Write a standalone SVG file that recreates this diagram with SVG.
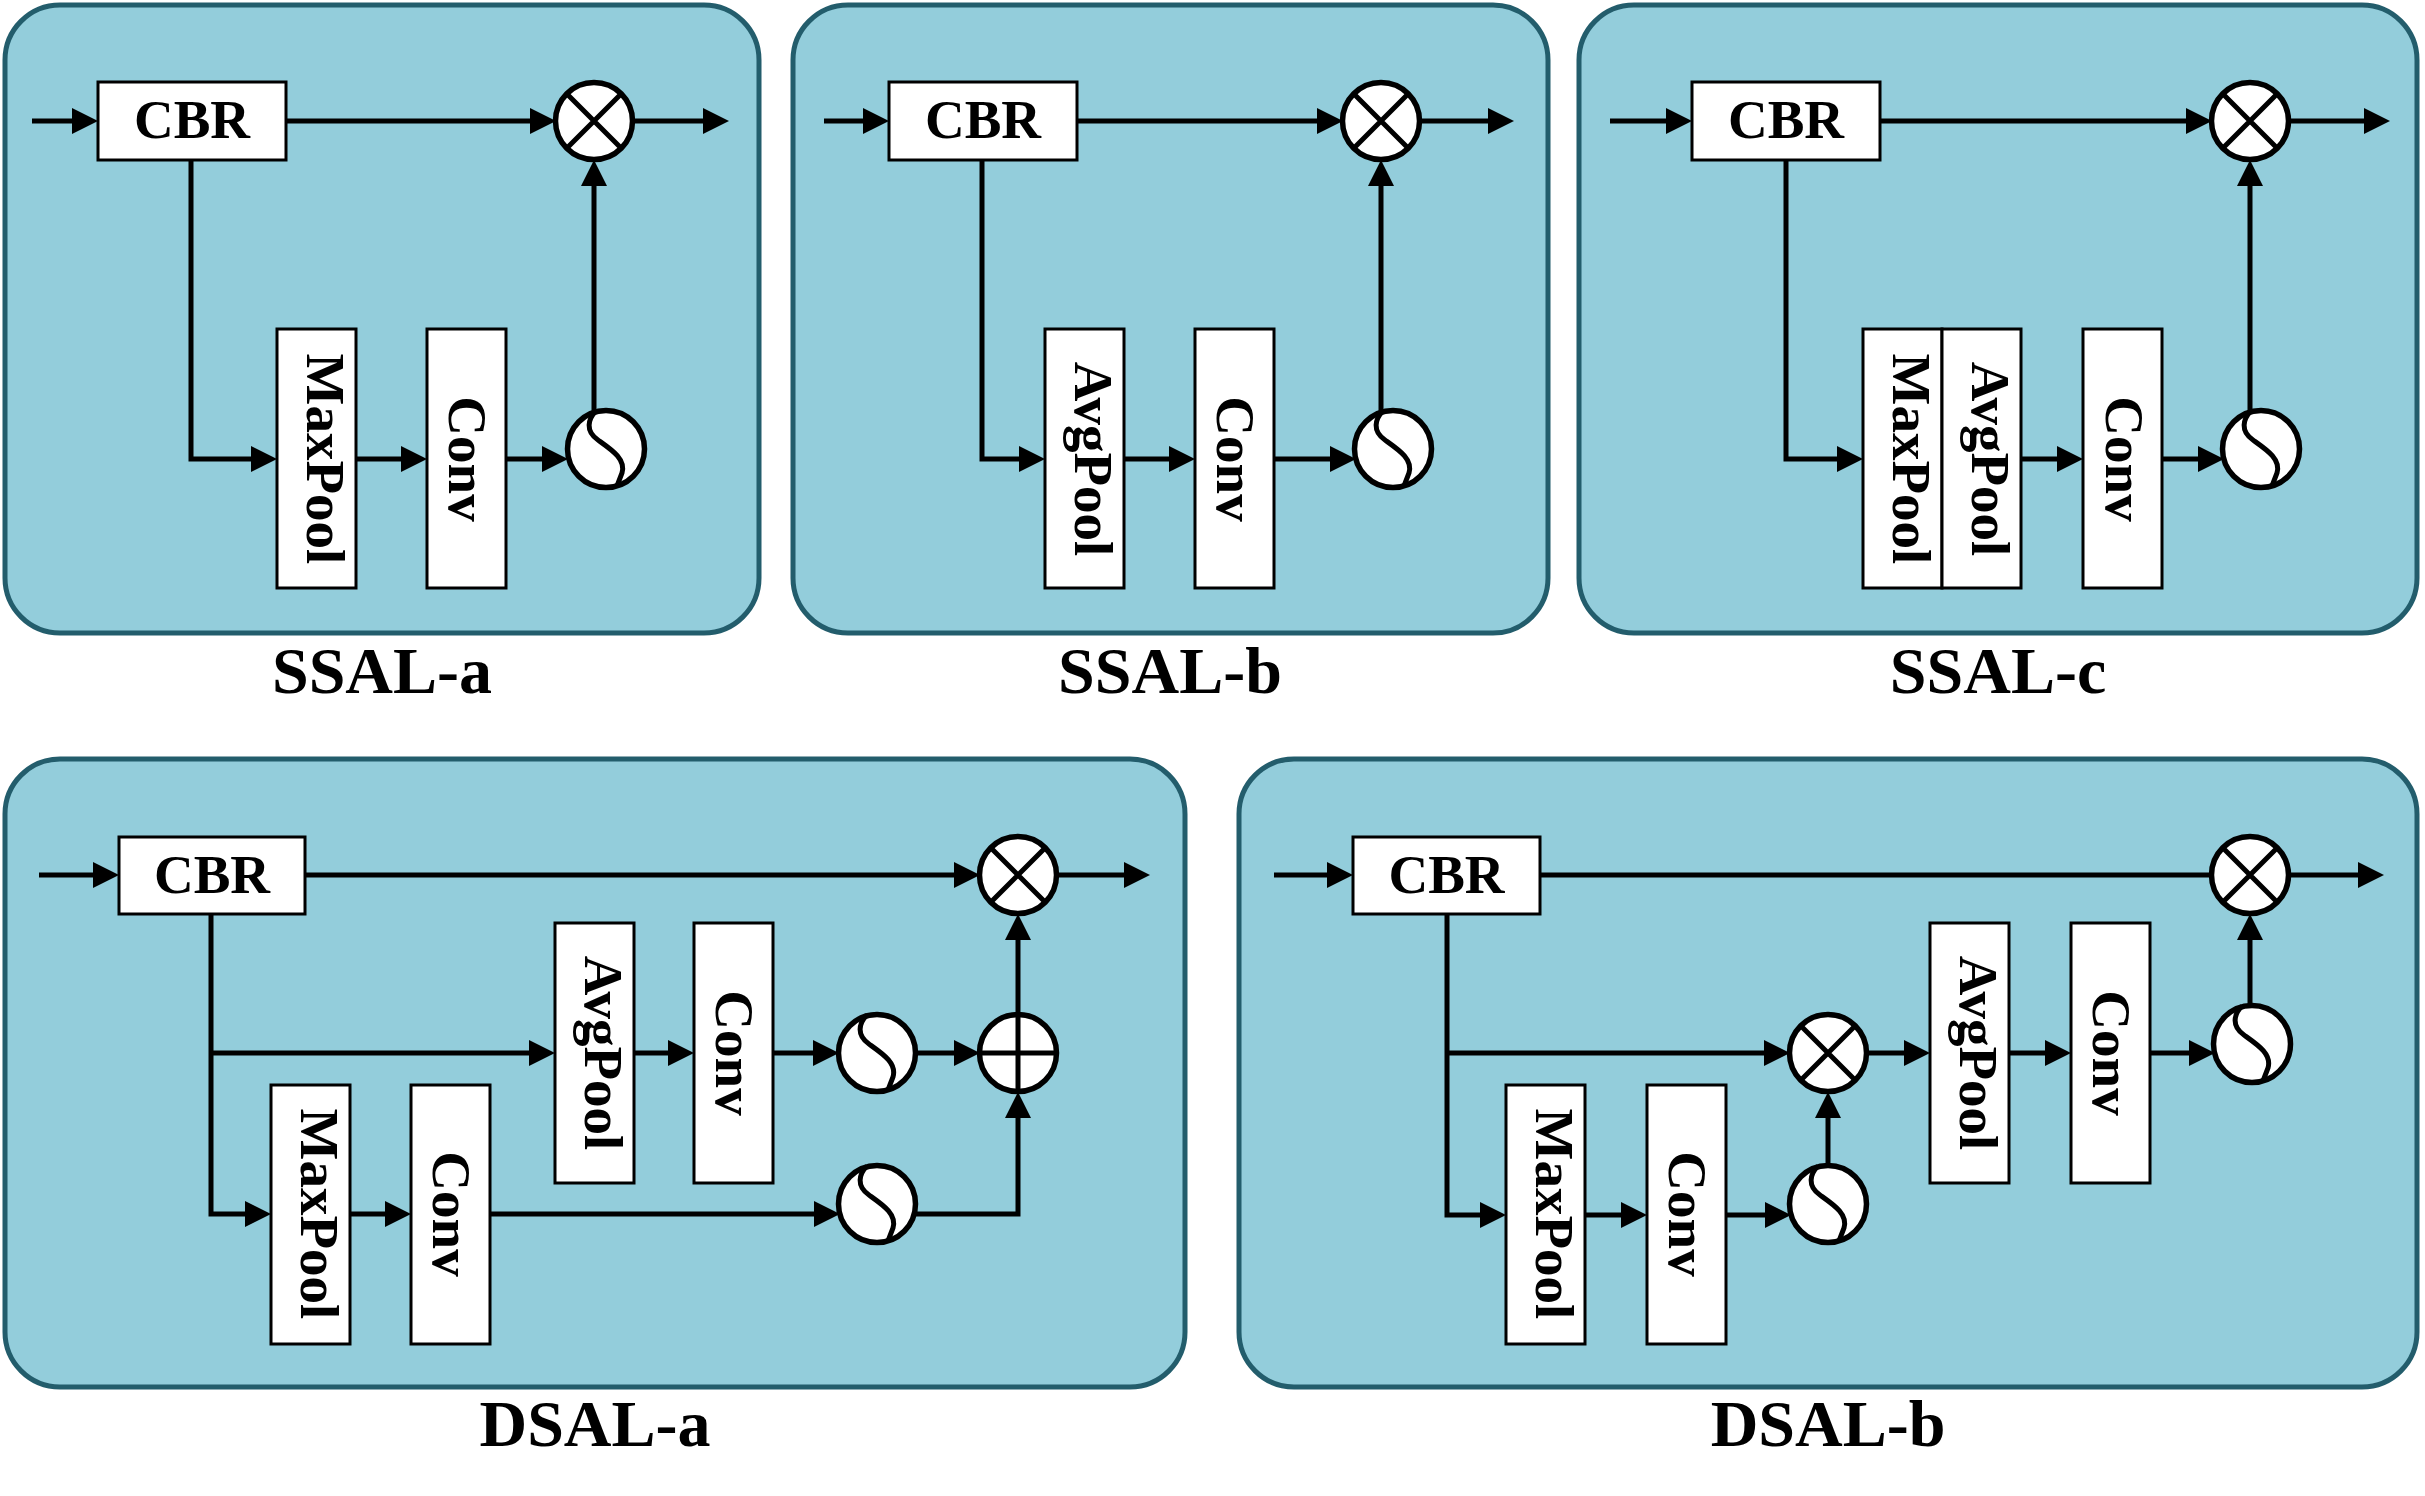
<svg xmlns="http://www.w3.org/2000/svg" xmlns:xlink="http://www.w3.org/1999/xlink" width="2425" height="1496" viewBox="0 0 2425 1496">
<style>
.panel{fill:#93CDDB;stroke:#235D6C;stroke-width:5}
.box{fill:#fff;stroke:#000;stroke-width:3}
.t{font-family:"Liberation Serif","Times New Roman",serif;font-weight:bold;font-size:55px;text-anchor:middle;fill:#000}
.lbl{font-family:"Liberation Serif","Times New Roman",serif;font-weight:bold;font-size:66px;text-anchor:middle;fill:#000}
.c{fill:none;stroke:#000;stroke-width:5}
.a{marker-end:url(#ah)}
</style>
<defs>
<marker id="ah" markerWidth="26" markerHeight="26" refX="20" refY="13" orient="auto" markerUnits="userSpaceOnUse"><path d="M0,0 L26,13 L0,26 z" fill="#000"/></marker>
<g id="sig"><circle r="38.5" fill="#fff" stroke="#000" stroke-width="5.5"/><path d="M-10,-38 C-18,-30 -21,-18 -8,-9 C6,1 20,10 16,24 L11,37" fill="none" stroke="#000" stroke-width="5"/></g>
<g id="mul"><circle r="38.5" fill="#fff" stroke="#000" stroke-width="5.5"/><path d="M-27,-27 L27,27 M27,-27 L-27,27" stroke="#000" stroke-width="5"/></g>
<g id="add"><circle r="38.5" fill="#fff" stroke="#000" stroke-width="5.5"/><path d="M-38,0 H38 M0,-38 V38" stroke="#000" stroke-width="5"/></g>
</defs>

<!-- Panels -->
<g id="panel-ssal-a"><rect class="panel" x="5" y="5" width="754" height="628" rx="55"/></g>
<g id="panel-ssal-b"><rect class="panel" x="793" y="5" width="755" height="628" rx="55"/></g>
<g id="panel-ssal-c"><rect class="panel" x="1579" y="5" width="838" height="628" rx="55"/></g>
<g id="panel-dsal-a"><rect class="panel" x="5" y="759" width="1180" height="628" rx="55"/></g>
<g id="panel-dsal-b"><rect class="panel" x="1239" y="759" width="1178" height="628" rx="55"/></g>

<!-- Connectors -->
<g id="connectors">
<!-- SSAL-a -->
<path class="c a" d="M32,121 H92"/>
<path class="c a" d="M286,121 H550"/>
<path class="c a" d="M634,121 H723"/>
<path class="c a" d="M191,160 V459 H271"/>
<path class="c a" d="M356,459 H421"/>
<path class="c a" d="M506,459 H562"/>
<path class="c a" d="M594,412 V166"/>
<!-- SSAL-b -->
<path class="c a" d="M824,121 H883"/>
<path class="c a" d="M1077,121 H1337"/>
<path class="c a" d="M1420,121 H1508"/>
<path class="c a" d="M982,160 V459 H1039"/>
<path class="c a" d="M1124,459 H1189"/>
<path class="c a" d="M1274,459 H1350"/>
<path class="c a" d="M1381,412 V166"/>
<!-- SSAL-c -->
<path class="c a" d="M1610,121 H1686"/>
<path class="c a" d="M1880,121 H2206"/>
<path class="c a" d="M2289,121 H2384"/>
<path class="c a" d="M1786,160 V459 H1857"/>
<path class="c a" d="M2021,459 H2077"/>
<path class="c a" d="M2162,459 H2218"/>
<path class="c a" d="M2250,412 V166"/>
<!-- DSAL-a -->
<path class="c a" d="M39,875 H113"/>
<path class="c a" d="M305,875 H974"/>
<path class="c a" d="M1057,875 H1144"/>
<path class="c a" d="M211,914 V1214 H265"/>
<path class="c a" d="M211,1053 H549"/>
<path class="c a" d="M634,1053 H688"/>
<path class="c a" d="M773,1053 H833"/>
<path class="c a" d="M916,1053 H974"/>
<path class="c a" d="M1018,1014 V920"/>
<path class="c a" d="M350,1214 H405"/>
<path class="c a" d="M490,1214 H834"/>
<path class="c a" d="M914,1214 H1018 V1098"/>
<!-- DSAL-b -->
<path class="c a" d="M1274,875 H1347"/>
<path class="c" d="M1540,875 H2212"/>
<path class="c a" d="M2289,875 H2378"/>
<path class="c a" d="M1447,914 V1215 H1500"/>
<path class="c a" d="M1447,1053 H1784"/>
<path class="c a" d="M1585,1215 H1641"/>
<path class="c a" d="M1726,1215 H1785"/>
<path class="c a" d="M1828,1165 V1098"/>
<path class="c a" d="M1867,1053 H1924"/>
<path class="c a" d="M2009,1053 H2065"/>
<path class="c a" d="M2150,1053 H2209"/>
<path class="c a" d="M2250,1006 V920"/>
</g>

<!-- SSAL-a nodes -->
<g id="ssal-a-cbr"><rect class="box" x="98" y="82" width="188" height="78"/><text class="t" x="192" y="138">CBR</text></g>
<g id="ssal-a-maxpool"><rect class="box" x="277" y="329" width="79" height="259"/><text class="t" transform="translate(307,459) rotate(90)">MaxPool</text></g>
<g id="ssal-a-conv"><rect class="box" x="427" y="329" width="79" height="259"/><text class="t" transform="translate(449,459) rotate(90)">Conv</text></g>
<g id="ssal-a-mul"><use href="#mul" x="594" y="121"/></g>
<g id="ssal-a-sig"><use href="#sig" x="606" y="449"/></g>
<g id="ssal-a-label"><text class="lbl" x="382" y="693">SSAL-a</text></g>

<!-- SSAL-b nodes -->
<g id="ssal-b-cbr"><rect class="box" x="889" y="82" width="188" height="78"/><text class="t" x="983" y="138">CBR</text></g>
<g id="ssal-b-avgpool"><rect class="box" x="1045" y="329" width="79" height="259"/><text class="t" transform="translate(1075,459) rotate(90)">AvgPool</text></g>
<g id="ssal-b-conv"><rect class="box" x="1195" y="329" width="79" height="259"/><text class="t" transform="translate(1217,459) rotate(90)">Conv</text></g>
<g id="ssal-b-mul"><use href="#mul" x="1381" y="121"/></g>
<g id="ssal-b-sig"><use href="#sig" x="1393" y="449"/></g>
<g id="ssal-b-label"><text class="lbl" x="1170" y="693">SSAL-b</text></g>

<!-- SSAL-c nodes -->
<g id="ssal-c-cbr"><rect class="box" x="1692" y="82" width="188" height="78"/><text class="t" x="1786" y="138">CBR</text></g>
<g id="ssal-c-maxpool"><rect class="box" x="1863" y="329" width="79" height="259"/><text class="t" transform="translate(1893,459) rotate(90)">MaxPool</text></g>
<g id="ssal-c-avgpool"><rect class="box" x="1942" y="329" width="79" height="259"/><text class="t" transform="translate(1972,459) rotate(90)">AvgPool</text></g>
<g id="ssal-c-conv"><rect class="box" x="2083" y="329" width="79" height="259"/><text class="t" transform="translate(2106,459) rotate(90)">Conv</text></g>
<g id="ssal-c-mul"><use href="#mul" x="2250" y="121"/></g>
<g id="ssal-c-sig"><use href="#sig" x="2261" y="449"/></g>
<g id="ssal-c-label"><text class="lbl" x="1998" y="693">SSAL-c</text></g>

<!-- DSAL-a nodes -->
<g id="dsal-a-cbr"><rect class="box" x="119" y="837" width="186" height="77"/><text class="t" x="212" y="893">CBR</text></g>
<g id="dsal-a-avgpool"><rect class="box" x="555" y="923" width="79" height="260"/><text class="t" transform="translate(585,1053) rotate(90)">AvgPool</text></g>
<g id="dsal-a-conv1"><rect class="box" x="694" y="923" width="79" height="260"/><text class="t" transform="translate(716,1053) rotate(90)">Conv</text></g>
<g id="dsal-a-maxpool"><rect class="box" x="271" y="1085" width="79" height="259"/><text class="t" transform="translate(301,1214) rotate(90)">MaxPool</text></g>
<g id="dsal-a-conv2"><rect class="box" x="411" y="1085" width="79" height="259"/><text class="t" transform="translate(433,1214) rotate(90)">Conv</text></g>
<g id="dsal-a-mul"><use href="#mul" x="1018" y="875"/></g>
<g id="dsal-a-add"><use href="#add" x="1018" y="1053"/></g>
<g id="dsal-a-sig1"><use href="#sig" x="877" y="1053"/></g>
<g id="dsal-a-sig2"><use href="#sig" x="877" y="1204"/></g>
<g id="dsal-a-label"><text class="lbl" x="595" y="1446">DSAL-a</text></g>

<!-- DSAL-b nodes -->
<g id="dsal-b-cbr"><rect class="box" x="1353" y="837" width="187" height="77"/><text class="t" x="1446.5" y="893">CBR</text></g>
<g id="dsal-b-maxpool"><rect class="box" x="1506" y="1085" width="79" height="259"/><text class="t" transform="translate(1536,1214) rotate(90)">MaxPool</text></g>
<g id="dsal-b-conv1"><rect class="box" x="1647" y="1085" width="79" height="259"/><text class="t" transform="translate(1669,1214) rotate(90)">Conv</text></g>
<g id="dsal-b-avgpool"><rect class="box" x="1930" y="923" width="79" height="260"/><text class="t" transform="translate(1960,1053) rotate(90)">AvgPool</text></g>
<g id="dsal-b-conv2"><rect class="box" x="2071" y="923" width="79" height="260"/><text class="t" transform="translate(2093,1053) rotate(90)">Conv</text></g>
<g id="dsal-b-mul-top"><use href="#mul" x="2250" y="875"/></g>
<g id="dsal-b-mul-mid"><use href="#mul" x="1828" y="1053"/></g>
<g id="dsal-b-sig1"><use href="#sig" x="1828" y="1204"/></g>
<g id="dsal-b-sig2"><use href="#sig" x="2252" y="1044"/></g>
<g id="dsal-b-label"><text class="lbl" x="1828" y="1446">DSAL-b</text></g>
</svg>
